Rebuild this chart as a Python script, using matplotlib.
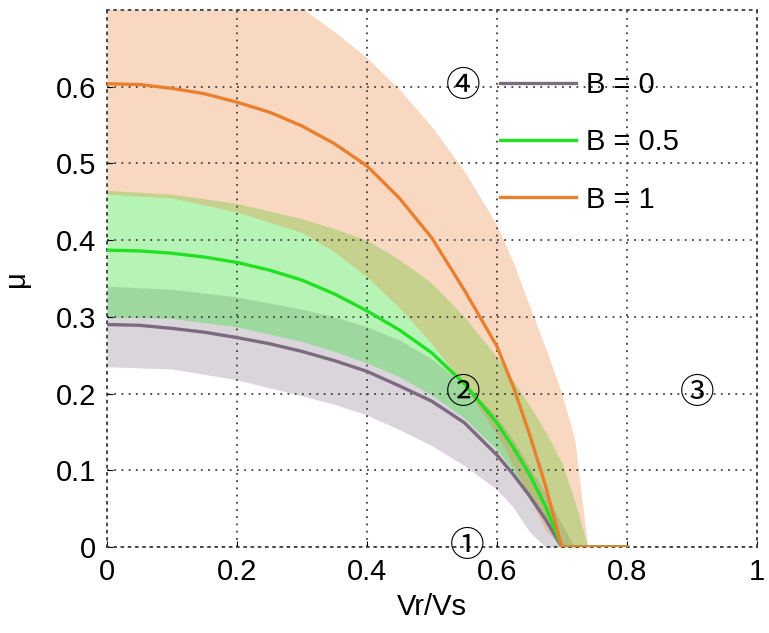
import matplotlib
matplotlib.use('Agg')
import matplotlib.pyplot as plt

plt.rcParams['font.family'] = ['Liberation Sans', 'DejaVu Sans']

# curve data
vr = [0, 0.05, 0.1, 0.15, 0.2, 0.25, 0.3, 0.35, 0.4, 0.45, 0.5, 0.55, 0.6,
      0.625, 0.65, 0.675, 0.7, 0.8]
mu_b0 = [0.29, 0.289, 0.285, 0.28, 0.273, 0.265, 0.255, 0.243, 0.229, 0.21,
         0.19, 0.162, 0.12, 0.095, 0.067, 0.036, 0.0, 0.0]
mu_b05 = [0.387, 0.386, 0.383, 0.378, 0.371, 0.361, 0.348, 0.33, 0.308, 0.283,
          0.253, 0.213, 0.162, 0.13, 0.095, 0.053, 0.0, 0.0]
mu_b1 = [0.604, 0.603, 0.598, 0.591, 0.58, 0.567, 0.549, 0.526, 0.497, 0.455,
         0.403, 0.335, 0.262, 0.21, 0.148, 0.08, 0.0, 0.0]

# uncertainty bands
vr_band = [0, 0.1, 0.2, 0.3, 0.35, 0.4, 0.45, 0.5, 0.55, 0.6, 0.625, 0.65,
           0.675, 0.7, 0.72, 0.74]
b0_lo = [0.235, 0.232, 0.218, 0.197, 0.186, 0.172, 0.153, 0.132, 0.106, 0.075,
         0.052, 0.02, 0, 0, 0, 0]
b0_hi = [0.34, 0.336, 0.326, 0.31, 0.3, 0.287, 0.27, 0.245, 0.213, 0.17,
         0.14, 0.105, 0.07, 0.03, 0, 0]
b05_lo = [0.30, 0.298, 0.287, 0.268, 0.255, 0.24, 0.222, 0.198, 0.168, 0.127,
          0.1, 0.068, 0.035, 0, 0, 0]
b05_hi = [0.465, 0.46, 0.448, 0.428, 0.415, 0.40, 0.375, 0.344, 0.3, 0.248,
          0.217, 0.185, 0.15, 0.11, 0.06, 0]
b1_lo = [0.46, 0.455, 0.437, 0.41, 0.385, 0.352, 0.312, 0.265, 0.21, 0.147,
         0.107, 0.065, 0.022, 0, 0, 0]
b1_hi = [0.78, 0.775, 0.75, 0.703, 0.672, 0.638, 0.597, 0.548, 0.49, 0.42,
         0.372, 0.315, 0.26, 0.2, 0.14, 0]

labels = ['B = 0', 'B = 0.5', 'B = 1']
colors = ['#7d6a80', '#22e022', '#e8802f']
alphas = [0.28, 0.33, 0.3]

# regions marked on the chart
region_labels = ['\u2460', '\u2461', '\u2462', '\u2463']
region_x = [0.555, 0.548, 0.908, 0.548]
region_y = [0.0, 0.2, 0.2, 0.6]

fig = plt.figure(figsize=(7.69, 6.33), dpi=100)
ax = fig.add_axes([0.139, 0.136, 0.845, 0.848])

bands = [(b0_lo, b0_hi), (b05_lo, b05_hi), (b1_lo, b1_hi)]
curves = [mu_b0, mu_b05, mu_b1]
for (lo, hi), c, a in zip(bands, colors, alphas):
    ax.fill_between(vr_band, lo, hi, color=c, alpha=a, linewidth=0, zorder=1)
for mu, c, lab in zip(curves, colors, labels):
    ax.plot(vr, mu, color=c, lw=2.4, label=lab, zorder=3)

for s, x, y in zip(region_labels, region_x, region_y):
    ax.text(x, y, s, fontsize=25, ha='center', va='center', zorder=4,
            family=['Noto Sans CJK JP', 'DejaVu Sans'])

ax.set_xlim(0, 1)
ax.set_ylim(0, 0.7)
ax.set_xticks([0, 0.2, 0.4, 0.6, 0.8, 1])
ax.set_xticklabels(['0', '0.2', '0.4', '0.6', '0.8', '1'])
ax.set_yticks([0, 0.1, 0.2, 0.3, 0.4, 0.5, 0.6])
ax.set_yticklabels(['0', '0.1', '0.2', '0.3', '0.4', '0.5', '0.6'])
ax.tick_params(direction='in', length=4, labelsize=21, pad=8, colors='k')
ax.set_axisbelow('line')
ax.grid(True, linestyle=(0, (1, 3)), color='#404040', linewidth=1.3)
for sp in ax.spines.values():
    sp.set_linestyle((0, (1, 3)))
    sp.set_linewidth(1.3)
    sp.set_color('#404040')

ax.set_xlabel('Vr/Vs', fontsize=21, labelpad=5)
ax.set_ylabel('\u03bc', fontsize=21, labelpad=18)

ax.legend(loc='upper left', bbox_to_anchor=(0.565, 0.935), frameon=False,
          fontsize=21, handlelength=2.6, handletextpad=0.35, labelspacing=1.0,
          borderpad=0.4)

fig.savefig('out.png', dpi=100)
